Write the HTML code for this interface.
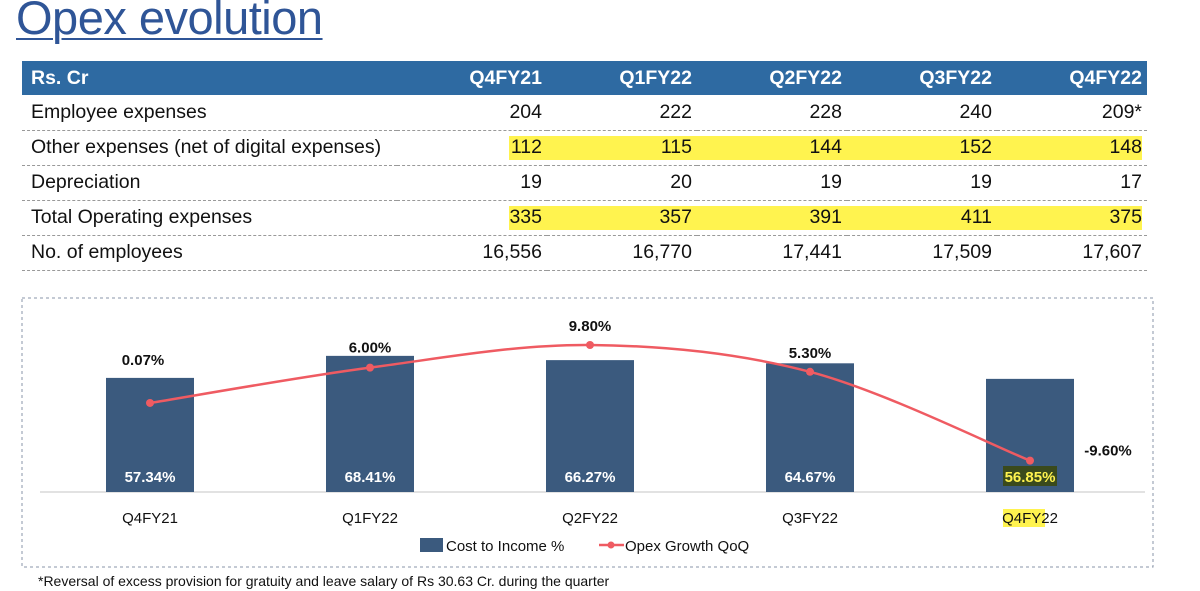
<!DOCTYPE html>
<html><head><meta charset="utf-8">
<style>
body{margin:0;width:1200px;height:591px;background:#fff;font-family:"Liberation Sans",sans-serif;overflow:hidden;position:relative}
.title{position:absolute;left:16px;top:-10px;font-size:47px;line-height:56px;color:#2f5597;text-decoration:underline;text-decoration-thickness:2px;text-underline-offset:4px;letter-spacing:-0.5px}
table{position:absolute;left:22px;top:61px;width:1125px;border-collapse:collapse;font-size:19.5px;color:#111;table-layout:fixed}
th{background:#2e6aa2;color:#fff;height:34px;font-weight:bold;text-align:right;padding:0 5px 0 0;box-sizing:border-box}
th:first-child{text-align:left;padding-left:9px}
td{height:35px;text-align:right;padding:0 5px 0 0;border-bottom:1px dashed #999;position:relative;box-sizing:border-box}
td:first-child{text-align:left;padding-left:9px}
.hl{position:absolute;left:509px;width:633px;height:24px;background:#fff34f}
.foot{position:absolute;left:38px;top:573px;font-size:14px;color:#111}
</style></head><body>
<div class="title">Opex evolution</div>
<div class="hl" style="top:136px"></div>
<div class="hl" style="top:206px"></div>
<table>
<colgroup><col style="width:375px"><col style="width:150px"><col style="width:150px"><col style="width:150px"><col style="width:150px"><col style="width:150px"></colgroup>
<tr><th>Rs. Cr</th><th>Q4FY21</th><th>Q1FY22</th><th>Q2FY22</th><th>Q3FY22</th><th>Q4FY22</th></tr>
<tr><td>Employee expenses</td><td>204</td><td>222</td><td>228</td><td>240</td><td>209*</td></tr>
<tr><td>Other expenses (net of digital expenses)</td><td>112</td><td>115</td><td>144</td><td>152</td><td>148</td></tr>
<tr><td>Depreciation</td><td>19</td><td>20</td><td>19</td><td>19</td><td>17</td></tr>
<tr><td>Total Operating expenses</td><td>335</td><td>357</td><td>391</td><td>411</td><td>375</td></tr>
<tr><td>No. of employees</td><td>16,556</td><td>16,770</td><td>17,441</td><td>17,509</td><td>17,607</td></tr>
</table>
<svg id="chart" width="1200" height="591" style="position:absolute;left:0;top:0">
<rect x="22" y="298" width="1131" height="269" fill="none" stroke="#8a96a8" stroke-dasharray="3,3"/>
<line x1="40" y1="492" x2="1145" y2="492" stroke="#d9d9d9" stroke-width="1.5"/>
</svg>
<div class="foot">*Reversal of excess provision for gratuity and leave salary of Rs 30.63 Cr. during the quarter</div>
<script>
const categories=["Q4FY21","Q1FY22","Q2FY22","Q3FY22","Q4FY22"];
const costToIncome=[57.34,68.41,66.27,64.67,56.85];
const opexGrowth=[0.07,6.00,9.80,5.30,-9.60];
const costLabels=["57.34%","68.41%","66.27%","64.67%","56.85%"];
const growthLabels=["0.07%","6.00%","9.80%","5.30%","-9.60%"];
const NS="http://www.w3.org/2000/svg";
const svg=document.getElementById('chart');
const xPos=i=>150+i*220;
const yBar=v=>492-v*1.99;
const yLine=v=>403.4-v*5.96;
function mk(tag,attrs,txt){const e=document.createElementNS(NS,tag);for(const k in attrs)e.setAttribute(k,attrs[k]);if(txt!==undefined)e.textContent=txt;svg.appendChild(e);return e;}
categories.forEach((c,i)=>{
  const b=mk('rect',{x:xPos(i)-44,y:yBar(costToIncome[i]),width:88,height:492-yBar(costToIncome[i]),fill:'#3b5a7e'});
  
  
  if(i===4){const hl=mk('rect',{x:xPos(i)-27,y:466,width:54,height:20,fill:'#3a4a1c'});
    
    }
  const t=mk('text',{x:xPos(i),y:482,'text-anchor':'middle','font-size':15,'font-weight':'bold',fill:i===4?'#fff34f':'#fff'},costLabels[i]);
  
  
  if(i===4){const hl2=mk('rect',{x:xPos(i)-27,y:509,width:42,height:18,fill:'#fff34f'});
    
    }
  const xl=mk('text',{x:xPos(i),y:523,'text-anchor':'middle','font-size':15,fill:'#111'},c);
  
  
});
const pts=opexGrowth.map((v,i)=>[xPos(i),yLine(v)]);
let d='M'+pts[0][0]+','+pts[0][1];
for(let i=0;i<pts.length-1;i++){
  const p0=pts[Math.max(0,i-1)],p1=pts[i],p2=pts[i+1],p3=pts[Math.min(pts.length-1,i+2)];
  const c1=[p1[0]+(p2[0]-p0[0])/6,p1[1]+(p2[1]-p0[1])/6],c2=[p2[0]-(p3[0]-p1[0])/6,p2[1]-(p3[1]-p1[1])/6];
  d+=` C${c1[0]},${c1[1]} ${c2[0]},${c2[1]} ${p2[0]},${p2[1]}`;
}
const line=mk('path',{d:d,fill:'none',stroke:'#ef5b62','stroke-width':2.5});


const lblOff=[[-7,-38],[0,-15],[0,-14],[0,-14],[78,-5]];
pts.forEach((p,i)=>{
  const c=mk('circle',{cx:p[0],cy:p[1],r:4,fill:'#ef5b62'});
  
  
  const t=mk('text',{x:p[0]+lblOff[i][0],y:p[1]+lblOff[i][1],'text-anchor':'middle','font-size':15,'font-weight':'bold',fill:'#111'},growthLabels[i]);
  
  
});
const l1=mk('rect',{x:420,y:538,width:23,height:14,fill:'#3b5a7e'});


const l2=mk('text',{x:446,y:551,'font-size':15,fill:'#111'},'Cost to Income %');


const l3=mk('line',{x1:599,y1:545,x2:624,y2:545,stroke:'#ef5b62','stroke-width':2.5});


const l4=mk('circle',{cx:611,cy:545,r:3.5,fill:'#ef5b62'});


const l5=mk('text',{x:625,y:551,'font-size':15,fill:'#111'},'Opex Growth QoQ');


</script>
</body></html>
